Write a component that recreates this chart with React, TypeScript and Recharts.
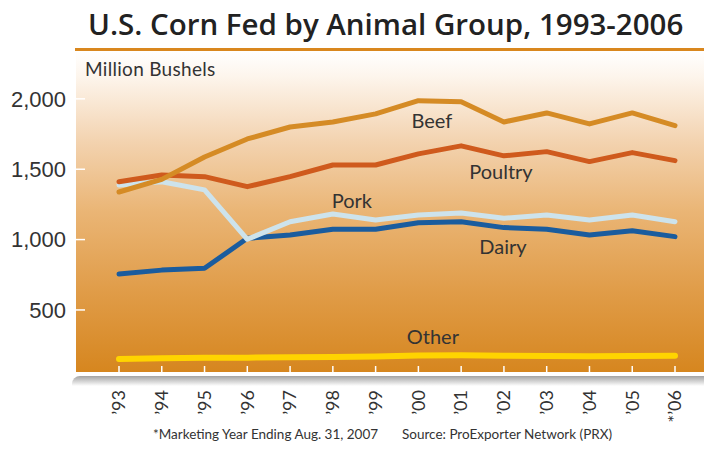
import { LineChart, Line, XAxis, YAxis, LabelList } from 'recharts';

const years = ['93', '94', '95', '96', '97', '98', '99', '00', '01', '02', '03', '04', '05', '06'];
const beef = [1338, 1428, 1587, 1715, 1800, 1836, 1893, 1987, 1980, 1836, 1900, 1822, 1900, 1810];
const poultry = [1411, 1459, 1447, 1376, 1447, 1530, 1530, 1609, 1666, 1595, 1625, 1554, 1618, 1561];
const pork = [1388, 1411, 1353, 1002, 1127, 1182, 1139, 1175, 1189, 1151, 1175, 1139, 1175, 1127];
const dairy = [755, 783, 796, 1009, 1033, 1073, 1073, 1120, 1127, 1085, 1073, 1033, 1063, 1021];
const other = [151, 156, 160, 161, 163, 166, 170, 176, 178, 175, 173, 171, 173, 175];
const yTicks = [500, 1000, 1500, 2000];

const data = years.map((y, i) => ({
  year: y,
  beef: beef[i],
  poultry: poultry[i],
  pork: pork[i],
  dairy: dairy[i],
  other: other[i],
}));

const FONT = 'Lato, "Open Sans", sans-serif';

// draws the series name only next to one chosen point
const nameLabel = (at: number, text: string, dx: number, dy: number) => (props: any) => {
  if (props.index !== at) return null;
  return (
    <text x={props.x + dx} y={props.y + dy} textAnchor="middle" fontFamily={FONT} fontSize={20} fill="#333">
      {text}
    </text>
  );
};

const XTick = (props: any) => {
  const { x, y, payload } = props;
  const label = payload.value === '06' ? '*\u2019' + payload.value : '\u2019' + payload.value;
  return (
    <g>
      <line x1={x} x2={x} y1={y - 6} y2={y} stroke="#fff" strokeWidth={1.5} />
      <text
        x={x}
        y={y + 18}
        dy="0.35em"
        textAnchor="end"
        transform={`rotate(-90 ${x} ${y + 18})`}
        fontFamily={FONT}
        fontSize={18}
        fill="#333"
      >
        {label}
      </text>
    </g>
  );
};

const YTick = (props: any) => {
  const { x, y, payload } = props;
  return (
    <g>
      <line x1={x} x2={x + 9} y1={y} y2={y} stroke="#fff" strokeWidth={1.5} />
      <text x={x - 10} y={y} dy="0.35em" textAnchor="end" fontFamily='"Liberation Sans", Arial, sans-serif' fontSize={22} fill="#333">
        {payload.value.toLocaleString('en-US')}
      </text>
    </g>
  );
};

export default function App() {
  return (
    <div style={{ position: 'relative', width: 704, height: 449, background: '#fff', overflow: 'hidden' }}>
      <style>{'body{margin:0}'}</style>
      <div
        style={{
          position: 'absolute',
          left: 76,
          top: 51,
          width: 628,
          height: 321,
          background:
            'linear-gradient(to bottom, #ffffff 0%, #fdf5ec 8%, #f3d3b0 28%, #eab575 50%, #e09c48 75%, #d6861f 100%)',
        }}
      />
      <div
        style={{
          position: 'absolute',
          left: 72,
          top: 376,
          width: 632,
          height: 10,
          background: 'linear-gradient(to bottom, #a3a3a3, rgba(255,255,255,0))',
          borderTopLeftRadius: 8,
        }}
      />
      <div style={{ position: 'absolute', left: 75, top: 48, width: 629, height: 3, background: '#d9871e' }} />
      <div style={{ position: 'absolute', left: 0, top: 0 }}>
        <LineChart width={704} height={449} data={data} margin={{ top: 52, right: 0, bottom: 0, left: 0 }}>
          <XAxis
            dataKey="year"
            height={77}
            padding={{ left: 43, right: 29 }}
            axisLine={false}
            tickLine={false}
            tickSize={0}
            tickMargin={0}
            interval={0}
            tick={<XTick />}
          />
          <YAxis
            width={76}
            domain={[59, 2333]}
            ticks={yTicks}
            axisLine={false}
            tickLine={false}
            tickSize={0}
            tickMargin={0}
            tick={<YTick />}
          />
          <Line dataKey="other" stroke="#ffd400" strokeWidth={6} dot={false} strokeLinecap="round" isAnimationActive={false}>
            <LabelList dataKey="other" content={nameLabel(7, 'Other', 14.5, -12)} />
          </Line>
          <Line dataKey="dairy" stroke="#1a5c9e" strokeWidth={5} dot={false} strokeLinecap="round" strokeLinejoin="round" isAnimationActive={false}>
            <LabelList dataKey="dairy" content={nameLabel(9, 'Dairy', -1, 26)} />
          </Line>
          <Line dataKey="pork" stroke="#cde3ec" strokeWidth={5} dot={false} strokeLinecap="round" strokeLinejoin="round" isAnimationActive={false}>
            <LabelList dataKey="pork" content={nameLabel(5, 'Pork', 19, -6)} />
          </Line>
          <Line dataKey="poultry" stroke="#cf5a1d" strokeWidth={5} dot={false} strokeLinecap="round" strokeLinejoin="round" isAnimationActive={false}>
            <LabelList dataKey="poultry" content={nameLabel(9, 'Poultry', -3, 23)} />
          </Line>
          <Line dataKey="beef" stroke="#d58b25" strokeWidth={5} dot={false} strokeLinecap="round" strokeLinejoin="round" isAnimationActive={false}>
            <LabelList dataKey="beef" content={nameLabel(7, 'Beef', 13.5, 27)} />
          </Line>
        </LineChart>
      </div>
      <svg width={704} height={449} style={{ position: 'absolute', left: 0, top: 0, pointerEvents: 'none' }}>
        <text x={88} y={35} fontFamily='"Open Sans", Lato, sans-serif' fontWeight={600} fontSize={29.5} fill="#222">
          U.S. Corn Fed by Animal Group, 1993-2006
        </text>
        <text x={85} y={76} fontFamily={FONT} fontSize={19} letterSpacing={0.3} fill="#333">
          Million Bushels
        </text>
        <text x={153} y={439} fontFamily={FONT} fontSize={13.5} fill="#333">
          *Marketing Year Ending Aug. 31, 2007
        </text>
        <text x={402} y={439} fontFamily={FONT} fontSize={13.5} fill="#333">
          Source: ProExporter Network (PRX)
        </text>
      </svg>
    </div>
  );
}
